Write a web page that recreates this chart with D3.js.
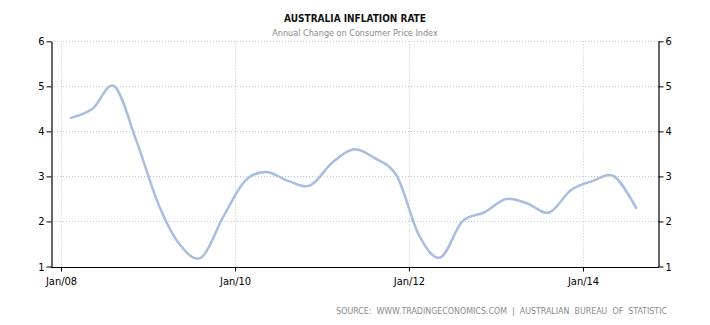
<!DOCTYPE html>
<html><head><meta charset="utf-8">
<script src="https://cdnjs.cloudflare.com/ajax/libs/d3/7.8.5/d3.min.js"></script>
<style>
body{margin:0;background:#fff;}
svg{display:block;}
</style></head>
<body>
<svg id="c" width="710" height="325"></svg>
<script>
const dates = ["2008-02-12","2008-05-12","2008-08-12","2008-11-12",
"2009-02-12","2009-05-12","2009-08-12","2009-11-12",
"2010-02-12","2010-05-12","2010-08-12","2010-11-12",
"2011-02-12","2011-05-12","2011-08-12","2011-11-12",
"2012-02-12","2012-05-12","2012-08-12","2012-11-12",
"2013-02-12","2013-05-12","2013-08-12","2013-11-12",
"2014-02-12","2014-05-12","2014-08-12"];
const values = [4.3,4.5,5.0,3.8,2.4,1.5,1.2,2.1,2.9,3.1,2.9,2.8,3.3,3.6,3.4,3.0,1.7,1.2,2.0,2.2,2.5,2.4,2.2,2.7,2.9,3.0,2.3];
const xTickDates = ["2008-01-01","2010-01-01","2012-01-01","2014-01-01"];
const xTickLabels = ["Jan/08","Jan/10","Jan/12","Jan/14"];
const yTicks = [1,2,3,4,5,6];
const title = "AUSTRALIA INFLATION RATE";
const subtitle = "Annual Change on Consumer Price Index";
const source = "SOURCE:  WWW.TRADINGECONOMICS.COM  |  AUSTRALIAN  BUREAU  OF  STATISTIC";

const parse = d3.utcParse("%Y-%m-%d");
const data = dates.map((d,i)=>({date:parse(d), v:values[i]}));
const tickD = xTickDates.map(parse);

const L = 51, R = 658, T = 41.3, B = 266.5;
const x = d3.scaleUtc().domain([tickD[0], tickD[3]]).range([61, 583]);
const y = d3.scaleLinear().domain([1,6]).range([B, T]);

const svg = d3.select("#c");
const font = "'DejaVu Sans Condensed', 'DejaVu Sans', sans-serif";

// grid
const g = svg.append("g");
g.selectAll(".hg").data(yTicks.filter(t=>t>1)).join("line")
  .attr("x1",L).attr("x2",R)
  .attr("y1",d=>Math.round(y(d))+0.5).attr("y2",d=>Math.round(y(d))+0.5)
  .attr("stroke","#c8c8c8").attr("stroke-dasharray","1,2");
g.selectAll(".vg").data(tickD).join("line")
  .attr("x1",d=>Math.round(x(d))+0.5).attr("x2",d=>Math.round(x(d))+0.5)
  .attr("y1",T).attr("y2",B)
  .attr("stroke","#c8c8c8").attr("stroke-dasharray","1,2");

// line
svg.append("path").datum(data)
  .attr("fill","none").attr("stroke","#a8bedf").attr("stroke-width",2.5)
  .attr("stroke-linejoin","round").attr("stroke-linecap","round")
  .attr("d", d3.line().x(d=>x(d.date)).y(d=>y(d.v)).curve(d3.curveCatmullRom.alpha(0)));

// axes
const yLeft = d3.axisLeft(y).tickValues(yTicks).tickSize(5).tickSizeOuter(0).tickFormat(d3.format("d"));
const yRight = d3.axisRight(y).tickValues(yTicks).tickSize(5).tickSizeOuter(0).tickFormat(d3.format("d"));
const xAxis = d3.axisBottom(x).tickValues(tickD).tickSize(4).tickSizeOuter(0).tickFormat((d,i)=>xTickLabels[i]);

const ga = svg.append("g").attr("transform",`translate(${L+0.5},0)`).call(yLeft);
const gb = svg.append("g").attr("transform",`translate(${R+0.5},0)`).call(yRight);
const gx = svg.append("g").attr("transform",`translate(0,${Math.round(B)+0.5})`).call(xAxis);
gx.select(".domain").attr("d",`M${L},0H${R+1}`);
[ga,gb,gx].forEach(s=>{
  s.select(".domain").attr("stroke","#000").attr("stroke-width",1.2);
  s.selectAll(".tick line").attr("stroke","#000");
  s.selectAll("text").attr("fill","#000").style("font-family",font).style("font-size","11px");
});
ga.selectAll("text").attr("x",-7);
gb.selectAll("text").attr("x",7);
gx.selectAll("text").attr("y",10);

// titles
svg.append("text").attr("x",355).attr("y",22).attr("text-anchor","middle")
  .style("font-family",font)
  .style("font-size","10px").style("font-weight","bold").attr("fill","#111").text(title);
svg.append("text").attr("x",355).attr("y",36).attr("text-anchor","middle")
  .style("font-family",font).style("font-size","9px").attr("fill","#8a8a8a").text(subtitle);
svg.append("text").attr("x",667).attr("y",314).attr("text-anchor","end")
  .style("font-family",font).style("font-size","8.8px").attr("fill","#8a8a8a")
  .style("white-space","pre").attr("xml:space","preserve").text(source);
</script>
</body></html>
